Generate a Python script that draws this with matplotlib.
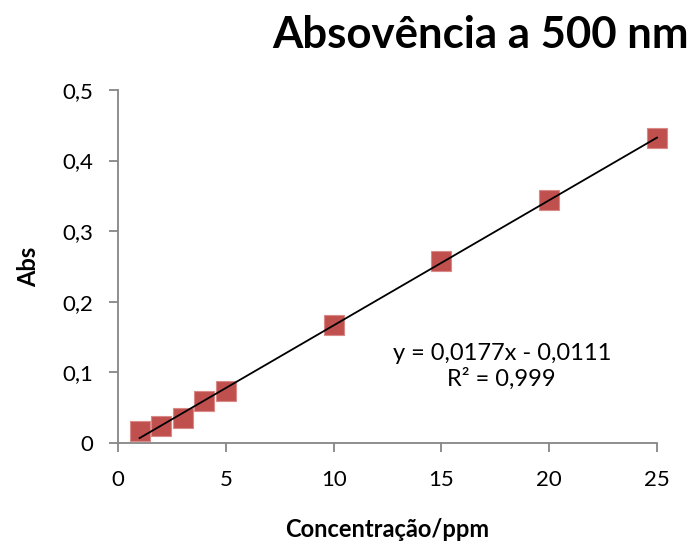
import numpy as np
import matplotlib
matplotlib.use("Agg")
import matplotlib.pyplot as plt
from matplotlib.ticker import FuncFormatter

plt.rcParams["font.family"] = ["Lato", "DejaVu Sans"]

# data
conc_ppm = [1, 2, 3, 4, 5, 10, 15, 20, 25]
absorb = [0.017, 0.024, 0.035, 0.059, 0.074, 0.167, 0.258, 0.344, 0.432]

x_ticks = [0, 5, 10, 15, 20, 25]
y_ticks = [0, 0.1, 0.2, 0.3, 0.4, 0.5]

AXIS_GREY = "#868686"
MARKER_RED = "#C0504D"


def comma_fmt(v, pos):
    if abs(v) < 1e-9:
        return "0"
    return f"{v:.1f}".replace(".", ",")


fig = plt.figure(figsize=(6.95, 5.52), dpi=100)
ax = fig.add_axes([0.1698, 0.1975, 0.7755, 0.6395])

ax.scatter(conc_ppm, absorb, marker="s", s=210, color=MARKER_RED,
           edgecolors="#D98A88", linewidths=0.8, zorder=2, clip_on=False)

# linear trendline from the points
slope, intercept = np.polyfit(conc_ppm, absorb, 1)
xs = np.array([min(conc_ppm), max(conc_ppm)])
ax.plot(xs, slope * xs + intercept, color="black", lw=1.3, zorder=3, clip_on=False)

ax.text(0.712, 0.218, "y = 0,0177x - 0,0111\nR² = 0,999", transform=ax.transAxes,
        ha="center", va="center", fontsize=17, linespacing=1.2)

ax.set_xlim(0, 25)
ax.set_ylim(0, 0.5)
ax.set_xticks(x_ticks)
ax.set_yticks(y_ticks)
ax.yaxis.set_major_formatter(FuncFormatter(comma_fmt))

for side in ["top", "right"]:
    ax.spines[side].set_visible(False)
for side in ["left", "bottom"]:
    ax.spines[side].set_color(AXIS_GREY)
    ax.spines[side].set_linewidth(1.3)

ax.tick_params(axis="both", direction="out", length=6.5, width=1.3,
               color=AXIS_GREY, labelsize=16)
ax.tick_params(axis="y", pad=11)
ax.tick_params(axis="x", pad=13)

ax.set_xlabel("Concentração/ppm", fontsize=17, fontweight="bold", labelpad=20)
ax.set_ylabel("Abs", fontsize=17, fontweight="bold", labelpad=16)

fig.text(0.692, 0.936, "Absovência a 500 nm", ha="center", va="center",
         fontsize=31.5, fontweight="bold")

fig.savefig("out.png", dpi=100)
